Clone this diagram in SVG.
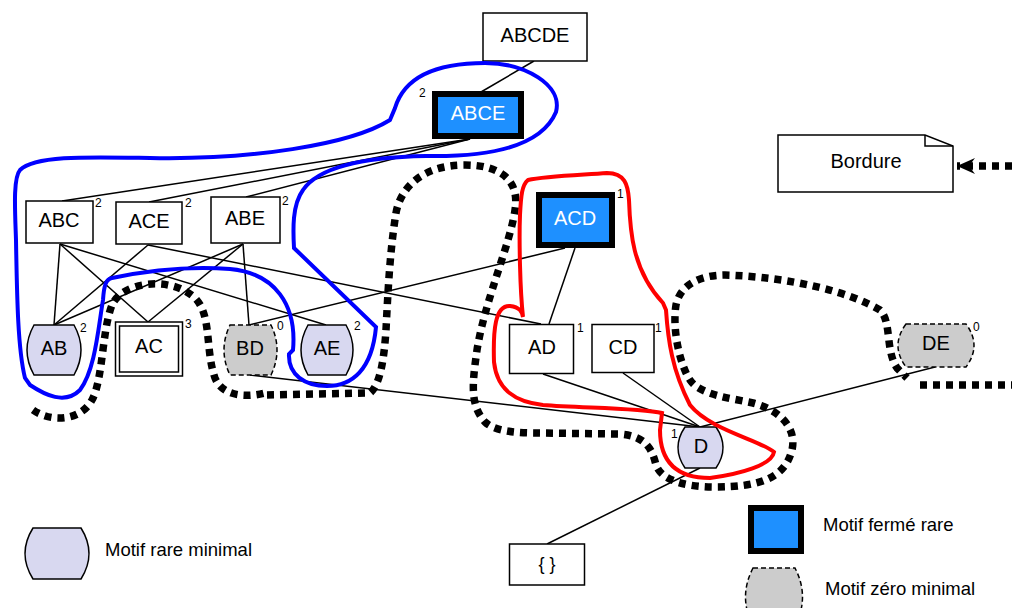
<svg xmlns="http://www.w3.org/2000/svg" width="1012" height="608" viewBox="0 0 1012 608">
<style>
text{font-family:"Liberation Sans",Arial,sans-serif;fill:#000}
.lbl{font-size:20px;text-anchor:middle}
.wl{font-size:20px;text-anchor:middle;fill:#fff}
.sup{font-size:12px}
.leg{font-size:18.5px}
.box{fill:#fff;stroke:#000;stroke-width:1.5}
.rare{fill:#1e90ff;stroke:#000;stroke-width:6}
.min{fill:#d8d8f0;stroke:#000;stroke-width:1.5}
.zero{fill:#cccccc;stroke:#000;stroke-width:1.5;stroke-dasharray:5 3}
.edge{stroke:#000;stroke-width:1.5;fill:none}
.dot{fill:none;stroke:#000;stroke-width:7.5;stroke-dasharray:7 6}
.blue{fill:none;stroke:#0000ff;stroke-width:4}
.red{fill:none;stroke:#ff0000;stroke-width:4}
</style>
<defs>
<marker id="arr" markerUnits="userSpaceOnUse" viewBox="-20 -10 22 20" refX="0" refY="0" markerWidth="22" markerHeight="20" orient="auto">
<path d="M0,0 L-18,-8 L-12,0 L-18,8 Z" fill="#000"/>
</marker>
</defs>
<rect width="1012" height="608" fill="#fff"/>
<g id="connectors">
<path class="edge" d="M534,61 L481,92"/>
<path class="edge" d="M470,139 L62,201"/>
<path class="edge" d="M470,139 L149,202"/>
<path class="edge" d="M470,139 L246,197"/>
<path class="edge" d="M60,244 L54,325"/>
<path class="edge" d="M60,244 L148,322"/>
<path class="edge" d="M60,244 L326,325"/>
<path class="edge" d="M148,245 L54,325"/>
<path class="edge" d="M148,245 L541,324"/>
<path class="edge" d="M243,244 L54,325"/>
<path class="edge" d="M243,244 L148,322"/>
<path class="edge" d="M243,244 L249,325"/>
<path class="edge" d="M249,325 L565,248"/>
<path class="edge" d="M575,248 L549,324"/>
<path class="edge" d="M250,375 L700,427"/>
<path class="edge" d="M543,374 L700,427"/>
<path class="edge" d="M623,373 L700,427"/>
<path class="edge" d="M935,367 L700,427"/>
<path class="edge" d="M700,468 L547,544"/>
<path class="dot" d="M1012,166 L957,166" marker-end="url(#arr)"/>
</g>
<g id="ABCDE"><rect class="box" x="483" y="13" width="104" height="48"/><text class="lbl" x="535" y="42">ABCDE</text></g>
<g id="ABCE"><rect class="rare" x="435" y="94" width="86" height="42"/><text class="wl" x="478" y="120">ABCE</text><text class="sup" x="419" y="97">2</text></g>
<g id="ABC"><rect class="box" x="26" y="201" width="67" height="42"/><text class="lbl" x="59" y="227">ABC</text><text class="sup" x="95" y="207">2</text></g>
<g id="ACE"><rect class="box" x="116" y="202" width="66" height="42"/><text class="lbl" x="149" y="228">ACE</text><text class="sup" x="185" y="207">2</text></g>
<g id="ABE"><rect class="box" x="211" y="197" width="69" height="46"/><text class="lbl" x="245" y="225">ABE</text><text class="sup" x="282" y="205">2</text></g>
<g id="AB"><path class="min" d="M34,325 H74 Q88,350 74,375 H34 Q20,350 34,325 Z"/><text class="lbl" x="54" y="355">AB</text><text class="sup" x="80" y="332">2</text></g>
<g id="AC"><rect class="box" x="115.5" y="322" width="67" height="54"/><rect class="box" x="119.5" y="326" width="59" height="46"/><text class="lbl" x="149" y="353">AC</text><text class="sup" x="185" y="328">3</text></g>
<g id="BD"><path class="zero" d="M230,325 H271 Q283,350 271,375 H230 Q218,350 230,325 Z"/><text class="lbl" x="250" y="355">BD</text><text class="sup" x="277" y="330">0</text></g>
<g id="AE"><path class="min" d="M308,325 H346 Q360,350 346,375 H308 Q294,350 308,325 Z"/><text class="lbl" x="327" y="355">AE</text><text class="sup" x="354" y="330">2</text></g>
<g id="ACD"><rect class="rare" x="539" y="195" width="73" height="50"/><text class="wl" x="575" y="225">ACD</text><text class="sup" x="617" y="198">1</text></g>
<g id="AD"><rect class="box" x="509.5" y="324.5" width="64" height="49"/><text class="lbl" x="542" y="354">AD</text><text class="sup" x="577" y="332">1</text></g>
<g id="CD"><rect class="box" x="592" y="324.5" width="62" height="48"/><text class="lbl" x="623" y="354">CD</text><text class="sup" x="655" y="332">1</text></g>
<g id="D"><path class="min" d="M685,427 H716 Q730,447.5 716,468 H685 Q671,447.5 685,427 Z"/><text class="lbl" x="701" y="453">D</text><text class="sup" x="671" y="438">1</text></g>
<g id="DE"><path class="zero" d="M906,324 H966 Q982,345.5 966,367 H906 Q890,345.5 906,324 Z"/><text class="lbl" x="936" y="350">DE</text><text class="sup" x="973" y="331">0</text></g>
<g id="empty"><rect class="box" x="509.5" y="544" width="75" height="41"/><text class="lbl" x="547" y="570" style="font-size:18px">{ }</text></g>
<g id="Bordure"><path class="box" d="M778,135 H925 L953,146 V192 H778 Z"/><path class="edge" d="M925,135 V146 H953"/><text class="lbl" x="866" y="168">Bordure</text></g>
<g id="regions">
<path class="dot" d="M33,410 C50,422 80,422 92,400 C103,380 102,330 112,305 C122,282 170,275 195,298 C212,315 205,350 215,378 C222,396 245,398 265,393"/>
<path class="dot" d="M267,395 L370,393 C380,385 384,360 386,330 C388,290 390,250 396,213 C400,190 420,165 465,165 C500,165 520,180 515,210 C510,245 485,300 477,350 C472,385 470,405 485,422 C495,432 520,433 540,433 L620,434 C645,436 652,448 656,465 C662,482 690,487 715,487 C760,487 785,478 792,450 C797,428 780,410 753,403 C730,398 700,395 690,380 C680,365 672,330 676,305 C680,285 700,275 725,275 C790,277 850,292 880,310 C892,322 885,350 897,368 L907,378"/>
<path class="dot" d="M920,385 H1012"/>
<path class="blue" d="M426,156 C480,157 540,150 556,112 C563,85 525,63 485,63 C440,63 405,75 395,108 L390,120 C350,145 250,160 150,158 C90,157 35,155 20,170 C13,178 15,210 16,240 C17,300 18,350 25,378 L30,385 C45,395 65,405 80,390 C95,370 98,330 103,300 C104,285 106,279 112,278 C150,270 190,266 230,269 C275,273 297,305 293,350 L289,354 C288,375 305,386 327,386 C352,386 372,370 376,327 L294,248 C293,230 292,205 303,190 C320,165 370,157 426,156 Z"/>
<path class="red" d="M528,180 C545,176 580,175 607,173 C625,173 628,185 629,200 C630,230 632,270 663,303 L666,310 C668,340 672,370 690,405 C710,430 760,440 774,452 C772,465 740,474 710,478 C680,478 660,465 660,430 L662,413 C640,408 580,408 543,405 C515,402 497,390 494,362 C493,330 495,305 510,306 C520,307 522,312 523,317 C520,290 519,240 520,215 C521,195 522,185 528,180 Z"/>
</g>
<g id="legend">
<path class="min" d="M33,528 H81 Q97,553.5 81,579 H33 Q17,553.5 33,528 Z"/>
<text class="leg" x="105" y="556">Motif rare minimal</text>
<rect class="rare" x="751" y="508" width="50" height="43"/>
<text class="leg" x="823" y="531">Motif fermé rare</text>
<path class="zero" d="M753,568 H795 Q810,597 795,626 H753 Q738,597 753,568 Z"/>
<text class="leg" x="825" y="595">Motif zéro minimal</text>
</g>
</svg>
